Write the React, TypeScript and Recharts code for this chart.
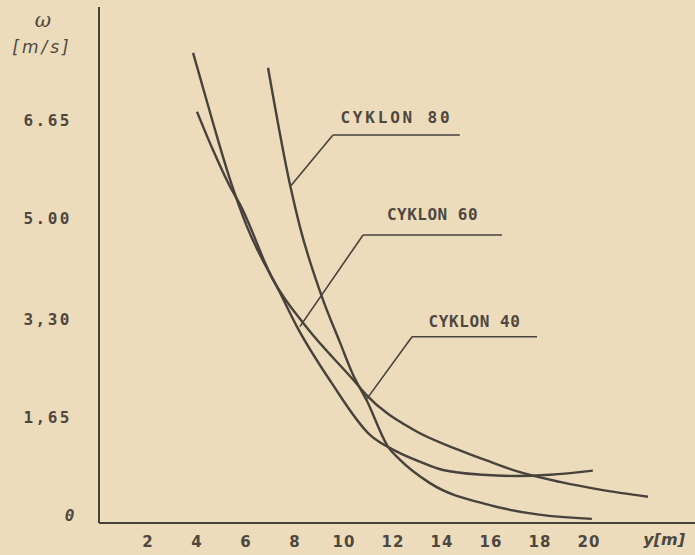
import React from 'react';
import { LineChart, Line, XAxis, YAxis, ReferenceLine, Label } from 'recharts';

// ---- axis ticks ----
const xTicks = [2, 4, 6, 8, 10, 12, 14, 16, 18, 20];
const yTicks = [0, 1.65, 3.3, 5.0, 6.65];
const yTickLabels = ['0', '1,65', '3,30', '5.00', '6.65'];
const xAxisTitle = 'y[m]';
const yAxisSymbol = 'ω';
const yAxisUnit = '[m/s]';

// ---- series (x in m, y in m/s) ----
const cyklon80X = [6.9, 7.8, 8.2, 9.1, 9.84, 10.37, 10.94, 11.8, 12.29, 13.51, 15.96, 17.96, 20.12];
const cyklon80Y = [7.53, 5.56, 4.86, 3.68, 2.91, 2.37, 1.93, 1.16, 0.94, 0.55, 0.18, 0.02, -0.05];

const cyklon60X = [3.84, 4.65, 5.35, 6.04, 7.39, 8.08, 9.47, 11.06, 12.16, 13.1, 14.04, 15.67, 17.06, 18.41, 20.16];
const cyklon60Y = [7.78, 6.61, 5.65, 4.86, 3.75, 3.18, 2.25, 1.36, 1.08, 0.91, 0.77, 0.69, 0.67, 0.69, 0.76];

const cyklon40X = [4.0, 4.65, 5.35, 5.76, 7.1, 8.45, 10.37, 10.94, 12.82, 14.86, 15.96, 16.98, 18.82, 20.45, 22.41];
const cyklon40Y = [6.79, 6.15, 5.53, 5.23, 3.97, 3.18, 2.29, 2.02, 1.45, 1.08, 0.91, 0.76, 0.57, 0.44, 0.32];

// ---- annotations ----
const annotationLabels = ['CYKLON 80', 'CYKLON 60', 'CYKLON 40'];
const underlineStartX = [9.55, 10.78, 12.78];
const underlineEndX = [14.73, 16.45, 17.88];
const underlineY = [6.4, 4.72, 3.01];
const leaderTipX = [7.84, 8.2, 10.94];
const leaderTipY = [5.55, 3.18, 1.97];

// ---- styles ----
const BG = '#ecdcbb';
const INK = '#47423c';
const TEXT = '#4d4740';
const labelOffsets = [12, 15, 10];
const labelSpacing = [2.8, 0.5, 0.6];

const toPoints = (xs: number[], ys: number[]) => xs.map((x, i) => ({ x, y: ys[i] }));
const series = [
  { name: 'CYKLON 80', data: toPoints(cyklon80X, cyklon80Y) },
  { name: 'CYKLON 60', data: toPoints(cyklon60X, cyklon60Y) },
  { name: 'CYKLON 40', data: toPoints(cyklon40X, cyklon40Y) },
];

const XTick = (props: any) => {
  const { x, y, payload } = props;
  return (
    <text
      x={x}
      y={y + 19}
      textAnchor="middle"
      dominantBaseline="central"
      fill={TEXT}
      fontFamily="'DejaVu Sans', sans-serif"
      fontWeight="bold"
      fontSize={15}
      letterSpacing={1}
    >
      {payload.value}
    </text>
  );
};

const YTick = (props: any) => {
  const { x, y, payload } = props;
  const i = yTicks.indexOf(payload.value);
  const isZero = payload.value === 0;
  return (
    <text
      x={isZero ? x - 22 : x - 27}
      y={y}
      textAnchor="end"
      dominantBaseline="central"
      fill={TEXT}
      fontFamily="'DejaVu Sans Mono', monospace"
      fontWeight="bold"
      fontStyle={isZero ? 'italic' : 'normal'}
      fontSize={16}
      letterSpacing={2.5}
    >
      {i >= 0 ? yTickLabels[i] : payload.value}
    </text>
  );
};

const YTitle = () => (
  <g>
    <text x={43} y={20} textAnchor="middle" dominantBaseline="central" fill={TEXT}
      fontFamily="'DejaVu Serif', serif" fontStyle="italic" fontSize={20}>
      {yAxisSymbol}
    </text>
    <text x={42} y={47} textAnchor="middle" dominantBaseline="central" fill={TEXT}
      fontFamily="'DejaVu Sans', sans-serif" fontStyle="italic" fontSize={17} letterSpacing={3}>
      {yAxisUnit}
    </text>
  </g>
);

export default function App() {
  return (
    <div style={{ position: 'absolute', left: 0, top: 0, width: 695, height: 555, background: BG }}>
      <LineChart width={695} height={555} margin={{ top: 7, right: 0, bottom: 0, left: 0 }}>
        <XAxis
          type="number"
          dataKey="x"
          domain={[0, 24.33]}
          allowDataOverflow
          ticks={xTicks}
          interval={0}
          height={32}
          tickSize={0}
          tickMargin={0}
          tickLine={false}
          axisLine={{ stroke: INK, strokeWidth: 2 }}
          tick={<XTick />}
        >
          <Label
            value={xAxisTitle}
            position="insideRight"
            offset={10}
            fill={TEXT}
            fontFamily="'DejaVu Sans', sans-serif"
            fontStyle="italic"
            fontWeight="bold"
            fontSize={16}
          />
        </XAxis>
        <YAxis
          type="number"
          domain={[-0.12, 8.55]}
          allowDataOverflow
          ticks={yTicks}
          interval={0}
          width={99}
          tickSize={0}
          tickMargin={0}
          tickLine={false}
          axisLine={{ stroke: INK, strokeWidth: 2 }}
          tick={<YTick />}
        >
          <Label content={() => <YTitle />} />
        </YAxis>

        {series.map((s) => (
          <Line
            key={s.name}
            name={s.name}
            data={s.data}
            dataKey="y"
            type="monotone"
            stroke={INK}
            strokeWidth={2.4}
            dot={false}
            activeDot={false}
            isAnimationActive={false}
          />
        ))}

        {annotationLabels.map((lab, i) => (
          <ReferenceLine
            key={'u' + i}
            segment={[
              { x: underlineStartX[i], y: underlineY[i] },
              { x: underlineEndX[i], y: underlineY[i] },
            ]}
            stroke={INK}
            strokeWidth={1.6}
            ifOverflow="visible"
          >
            <Label
              value={lab}
              position="top"
              offset={labelOffsets[i]}
              fill={TEXT}
              fontFamily="'DejaVu Sans Mono', monospace"
              fontWeight="bold"
              fontSize={16}
              letterSpacing={labelSpacing[i]}
            />
          </ReferenceLine>
        ))}
        {annotationLabels.map((lab, i) => (
          <ReferenceLine
            key={'l' + i}
            segment={[
              { x: underlineStartX[i], y: underlineY[i] },
              { x: leaderTipX[i], y: leaderTipY[i] },
            ]}
            stroke={INK}
            strokeWidth={1.6}
            ifOverflow="visible"
          />
        ))}
      </LineChart>
    </div>
  );
}
